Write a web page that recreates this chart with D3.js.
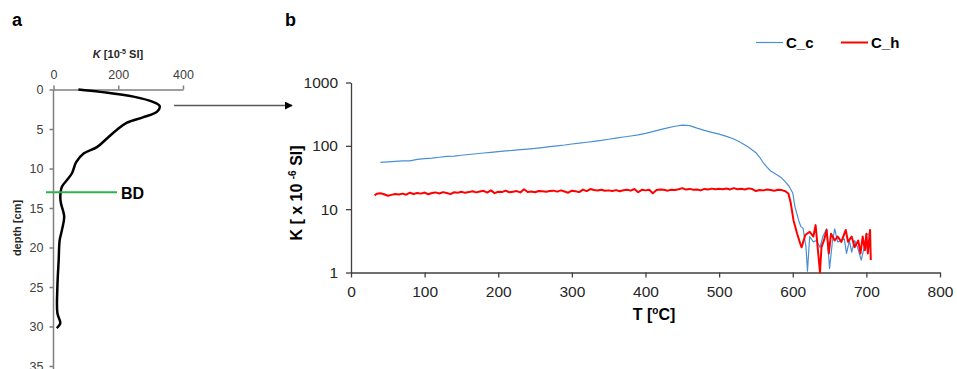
<!DOCTYPE html>
<html>
<head>
<meta charset="utf-8">
<script src="https://cdn.jsdelivr.net/npm/d3@7"></script>
<style>
  body { margin: 0; background: #fff; }
  text { font-family: "Liberation Sans", Arial, sans-serif; }
</style>
</head>
<body>
<div class="chart"></div>
<script>
// ---- panel a: susceptibility profile with depth ----
var depthCm = [0, 0.3, 0.9, 1.6, 2.1, 2.8, 3.5, 4.2, 5.1, 6.2, 7.3, 8.1, 9.2, 10.6, 11.5, 12.3, 13.6, 14.4, 16.1, 17.8, 19.1, 21.6, 25, 28.3, 29.6, 30.2];
var kProfile = [77, 144, 247, 309, 328, 320, 278, 227, 196, 165, 134, 93, 70, 57, 41, 26, 21, 23, 33, 26, 19, 16, 12, 12, 21, 10];
var bdDepth = 13;
var kTicks = [0, 200, 400];
var depthTicks = [0, 5, 10, 15, 20, 25, 30, 35];

// ---- panel b: K vs temperature ----
var tempC = [40, 50, 60, 70, 80, 90, 100, 110, 120, 130, 140, 150, 160, 170, 180, 190, 200, 210, 220, 230, 240, 250, 260, 270, 280, 290, 300, 310, 320, 330, 340, 350, 360, 370, 380, 390, 400, 410, 420, 430, 440, 450, 460, 470, 480, 490, 500, 510, 520, 530, 540, 550, 555, 560, 565, 570, 575, 580, 585, 590, 595, 600,
  603, 608, 611, 614, 618, 620, 623, 628, 632, 637, 641, 646, 650, 654, 657, 661, 666, 670, 673, 677, 680, 684, 688, 693, 697, 700, 704];
var kCool = [55, 56, 57, 58, 58, 61, 63, 64, 66, 68, 69, 71, 73, 75, 77, 79, 81, 83, 85, 87, 89, 91, 94, 97, 100, 103, 107, 110, 114, 118, 122, 127, 132, 138, 143, 149, 157, 168, 180, 192, 204, 212, 208, 190, 175, 163, 153, 141, 128, 112, 95, 78, 66, 54, 46, 40, 37, 34, 31, 27, 23, 18,
  10.9, 6.7, 5.3, 5, 2.5, 1.05, 3.7, 3.05, 3.2, 2.5, 3.7, 4.9, 1.16, 3.2, 4.9, 3.05, 3.2, 3.4, 2.0, 3.2, 2.1, 3.2, 2.5, 1.57, 2.5, 3.9, 4.1];

var tempH = [32, 35, 40, 45, 50, 55, 60, 65, 70, 75, 80, 85, 90, 95, 100, 105, 110, 115, 120, 125, 130, 135, 140, 145, 150, 155, 160, 165, 170, 175, 180, 185, 190, 195, 200, 205, 210, 215, 220, 225, 230, 235, 240, 245, 250, 255, 260, 265, 270, 275, 280, 285, 290, 295, 300, 305, 310, 315, 320, 325, 330, 335, 340, 345, 350, 355, 360, 365, 370, 375, 380, 385, 390, 395, 400, 405, 410, 415, 420, 425, 430, 435, 440, 445, 450, 455, 460, 465, 470, 475, 480, 485, 490, 495, 500, 505, 510, 515, 520, 525, 530, 535, 540, 545, 550, 555, 560, 565, 570, 575, 580, 585, 590,
  594, 597, 601, 606, 610, 612, 617, 623, 628, 631, 633, 637, 639, 643, 646, 649, 652, 657, 661, 666, 672, 675, 680, 684, 689, 692, 695, 698, 700, 702, 705, 706];
var kHeat = [16.5, 17.5, 17.8, 17.2, 16.3, 16.8, 17.3, 17.0, 17.6, 16.9, 18.2, 17.4, 18.0, 17.6, 18.3, 17.2, 18.0, 18.4, 17.7, 18.6, 18.0, 17.3, 18.5, 18.2, 18.8, 18.1, 18.6, 19.2, 18.4, 19.0, 19.5, 18.3, 19.8, 17.9, 18.8, 18.6, 19.6, 18.5, 18.9, 19.3, 18.4, 20.6, 18.7, 19.0, 18.5, 19.4, 19.1, 18.8, 19.3, 19.6, 18.9, 19.8, 19.0, 18.2, 19.6, 19.2, 18.6, 20.4, 19.3, 20.8, 20.1, 19.7, 20.3, 19.5, 19.8, 19.4, 20.0, 19.2, 19.9, 20.3, 19.6, 20.8, 18.5, 20.2, 19.8, 20.3, 17.9, 20.0, 20.5, 20.2, 19.6, 20.3, 20.1, 20.6, 21.5, 20.4, 20.9, 20.3, 20.5, 19.8, 20.9, 20.4, 21.1, 20.6, 21.0, 20.7, 21.2, 20.5, 21.5, 20.6, 21.0, 20.4, 21.3, 20.8, 19.3, 20.1, 19.8, 20.4, 20.0, 19.6, 20.2, 20.0, 19.2,
  17.7, 13, 6.7, 4.1, 2.9, 2.5, 3.9, 4.4, 3.7, 5.6, 3.2, 1.0, 2.5, 3.4, 4.7, 2.0, 4.1, 3.2, 3.7, 3.05, 4.7, 3.05, 3.7, 2.5, 3.2, 2.0, 3.7, 2.25, 4.1, 2.0, 4.7, 1.57];

var tempTicks = [0, 100, 200, 300, 400, 500, 600, 700, 800];
var logTicks = [1, 10, 100, 1000];
var seriesNames = ["C_c", "C_h"];
var seriesColors = ["#4a8fd4", "#ff0000"];

var svg = d3.select(".chart")
  .append("svg")
  .attr("width", 957)
  .attr("height", 369);

// panel letters
svg.append("text").attr("x", 12).attr("y", 26)
  .style("font-size", "18px").style("font-weight", "bold").text("a");
svg.append("text").attr("x", 285).attr("y", 26)
  .style("font-size", "18px").style("font-weight", "bold").text("b");

// ================= panel a =================
var xA = d3.scaleLinear().domain([0, 400]).range([53.5, 183]);
var yA = d3.scaleLinear().domain([0, 35]).range([89.5, 366]);

var topAxis = svg.append("g")
  .attr("transform", "translate(0, 89.5)")
  .call(d3.axisTop(xA).tickValues(kTicks).tickSize(4).tickSizeOuter(0).tickPadding(7));

var leftAxisA = svg.append("g")
  .attr("transform", "translate(53.5, 0)")
  .call(d3.axisLeft(yA).tickValues(depthTicks).tickSize(4).tickSizeOuter(0).tickPadding(6));

// y axis continues past the last tick
leftAxisA.select(".domain").attr("d", "M0,89.5V369");

[topAxis, leftAxisA].forEach(g => {
  g.selectAll("path, line").attr("stroke", "#7f7f7f").attr("stroke-width", 1.5);
  g.selectAll("text").attr("fill", "#404040")
    .style("font-size", "12.5px").style("font-family", "Liberation Sans, Arial, sans-serif");
});

// K axis title
var kTitle = svg.append("text").attr("x", 118).attr("y", 58)
  .attr("text-anchor", "middle")
  .style("font-size", "11px").style("font-weight", "bold").attr("fill", "#262626");
kTitle.append("tspan").style("font-style", "italic").text("K");
kTitle.append("tspan").text(" [10");
kTitle.append("tspan").attr("dy", -4).style("font-size", "7px").text("-5");
kTitle.append("tspan").attr("dy", 4).text(" SI]");

// depth title
svg.append("text")
  .attr("transform", "translate(21, 228) rotate(-90)")
  .attr("text-anchor", "middle")
  .style("font-size", "11px").style("font-weight", "bold").attr("fill", "#262626")
  .text("depth [cm]");

// profile curve
var profile = depthCm.map((d, i) => ({ depth: d, k: kProfile[i] }));
svg.append("path")
  .datum(profile)
  .attr("fill", "none")
  .attr("stroke", "#000")
  .attr("stroke-width", 2.5)
  .attr("d", d3.line()
    .x(d => xA(d.k))
    .y(d => yA(d.depth))
    .curve(d3.curveCatmullRom));

// boundary depth marker
svg.append("line")
  .attr("x1", 46).attr("x2", 117)
  .attr("y1", yA(bdDepth)).attr("y2", yA(bdDepth))
  .attr("stroke", "#2db34a").attr("stroke-width", 2);
svg.append("text").attr("x", 121).attr("y", yA(bdDepth) + 6.5)
  .style("font-size", "16px").style("font-weight", "bold").attr("fill", "#000").text("BD");

// arrow linking the panels
svg.append("defs").append("marker")
  .attr("id", "arrowhead")
  .attr("viewBox", "0 0 10 10")
  .attr("refX", 9).attr("refY", 5)
  .attr("markerWidth", 5).attr("markerHeight", 5)
  .attr("markerUnits", "strokeWidth")
  .attr("orient", "auto")
  .append("path").attr("d", "M0,0L10,5L0,10Z").attr("fill", "#000");

svg.append("line")
  .attr("x1", 174).attr("x2", 292)
  .attr("y1", 105.5).attr("y2", 105.5)
  .attr("stroke", "#595959").attr("stroke-width", 1.6)
  .attr("marker-end", "url(#arrowhead)");

// ================= panel b =================
var xB = d3.scaleLinear().domain([0, 800]).range([351, 940]);
var yB = d3.scaleLog().domain([1, 1000]).range([272.5, 82.5]);

var bottomAxis = svg.append("g")
  .attr("transform", "translate(0, 272.5)")
  .call(d3.axisBottom(xB).tickValues(tempTicks).tickSize(5).tickSizeOuter(0).tickPadding(8));

var leftAxisB = svg.append("g")
  .attr("transform", "translate(351, 0)")
  .call(d3.axisLeft(yB).tickValues(logTicks).tickFormat(d3.format("d")).tickSize(5).tickSizeOuter(0).tickPadding(8));

[bottomAxis, leftAxisB].forEach(g => {
  g.selectAll("path, line").attr("stroke", "#404040").attr("stroke-width", 1.3);
  g.selectAll("text").attr("fill", "#262626")
    .style("font-size", "15.5px").style("font-family", "Liberation Sans, Arial, sans-serif");
});

// axis titles
var tTitle = svg.append("text").attr("x", 654).attr("y", 320)
  .attr("text-anchor", "middle")
  .style("font-size", "16px").style("font-weight", "bold").attr("fill", "#000");
tTitle.append("tspan").text("T [");
tTitle.append("tspan").attr("dy", -6).style("font-size", "10px").text("o");
tTitle.append("tspan").attr("dy", 6).text("C]");

var yTitle = svg.append("text")
  .attr("transform", "translate(302, 193) rotate(-90)")
  .attr("text-anchor", "middle")
  .style("font-size", "16px").style("font-weight", "bold").attr("fill", "#000");
yTitle.append("tspan").text("K [ x 10 ");
yTitle.append("tspan").attr("dy", -6).style("font-size", "10px").text("-6");
yTitle.append("tspan").attr("dy", 6).text(" SI]");

// series
var series = [
  { name: seriesNames[0], color: seriesColors[0], width: 1.2, points: tempC.map((t, i) => ({ t: t, k: kCool[i] })) },
  { name: seriesNames[1], color: seriesColors[1], width: 2, points: tempH.map((t, i) => ({ t: t, k: kHeat[i] })) }
];

var lineB = d3.line()
  .x(d => xB(d.t))
  .y(d => yB(d.k));

svg.selectAll(".series")
  .data(series)
  .enter()
  .append("path")
  .attr("class", "series")
  .attr("fill", "none")
  .attr("stroke", d => d.color)
  .attr("stroke-width", d => d.width)
  .attr("stroke-linejoin", "round")
  .attr("d", d => lineB(d.points));

// legend
var legendX = [756, 841];
var legend = svg.selectAll(".legend")
  .data(series)
  .enter()
  .append("g")
  .attr("class", "legend")
  .attr("transform", (d, i) => `translate(${legendX[i]}, 42.5)`);

legend.append("line")
  .attr("x1", 0).attr("x2", 27)
  .attr("stroke", d => d.color)
  .attr("stroke-width", d => d.width);

legend.append("text")
  .attr("x", 30).attr("y", 5)
  .style("font-size", "15px").style("font-weight", "bold").attr("fill", "#000")
  .text(d => d.name);
</script>
</body>
</html>
